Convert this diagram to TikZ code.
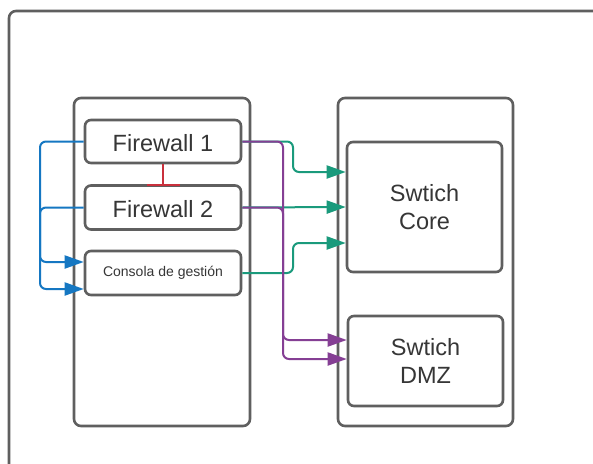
\documentclass[tikz,border=0pt]{standalone}
\usepackage{fontspec}
\setmainfont{Liberation Sans}
\usetikzlibrary{arrows.meta}

\definecolor{frame}{HTML}{5F5F5F}
\definecolor{txt}{HTML}{363636}
\definecolor{lblue}{HTML}{1577C2}
\definecolor{lgreen}{HTML}{1A9A7C}
\definecolor{lpurple}{HTML}{853F94}
\definecolor{lred}{HTML}{C9303C}

\tikzset{
  box/.style={draw=frame, line width=2.6pt, rounded corners=6pt, inner sep=0pt,
    align=center, text=txt, font=\fontsize{23.5}{28}\selectfont},
  group/.style={draw=frame, line width=2.6pt, rounded corners=7pt},
  link/.style={line width=2pt, rounded corners=6pt,
    -{Triangle[length=19pt,width=13pt]}},
}

\begin{document}
\begin{tikzpicture}[x=1pt,y=-1pt]
   \useasboundingbox (0,0) rectangle (593,463);
   \fill[white] (0,0) rectangle (593,463);
   \draw[group] (9,490) -- (9,11) -- (620,11);

   % both racks
   \node[group, minimum width=176pt, minimum height=328pt] (left) at (162,262) {};
   \node[group, minimum width=175pt, minimum height=328pt] (right) at (425.5,262) {};

   \node[box, text height=21pt, minimum width=156pt, minimum height=43pt] (fw1) at (163,141.5) {Firewall 1};
   \node[box, text height=21pt, minimum width=156pt, minimum height=44pt] (fw2) at (163,207.5) {Firewall 2};
   \node[box, minimum width=156pt, minimum height=44pt,
         font=\fontsize{14}{17}\selectfont] (cons) at (163,273) {Consola de gestión};
   \node[box, minimum width=155pt, minimum height=130pt] (core) at (424.5,207) {Swtich\\Core};
   \node[box, minimum width=155pt, minimum height=90pt] (dmz) at (425.5,361) {Swtich\\DMZ};

   % failover between firewalls
   \draw[lred, line width=2pt, -{Bar[width=33pt,line width=2pt]}] (fw1.south) -- ([yshift=-2pt]fw2.north);

   % management
   \draw[link, lblue] (fw1.west) -| (40,289) -- (cons.west |- 0,289);
   \draw[link, lblue] (fw2.west) -| (40,262) -- (cons.west |- 0,262);

   % to core
   \draw[link, lgreen] (fw1.east) -| (293,172) -- (core.west |- 0,172);
   \draw[link, lgreen] (fw2.east) -- (core.west |- 0,207);
   \draw[link, lgreen] (cons.east) -| (293,243) -- (core.west |- 0,243);

   % to dmz
   \draw[link, lpurple] (fw1.east) -| (283,359) -- (dmz.west |- 0,359);
   \draw[link, lpurple] (fw2.east) -| (283,340) -- (dmz.west |- 0,340);
\end{tikzpicture}
\end{document}
